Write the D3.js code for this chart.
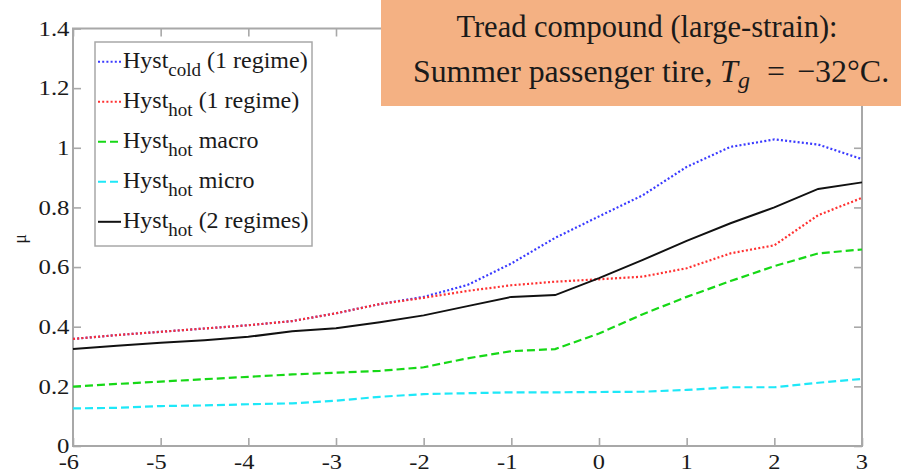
<!DOCTYPE html>
<html>
<head>
<meta charset="utf-8">
<script src="https://cdn.jsdelivr.net/npm/d3@7"></script>
<style>
  html, body { margin: 0; padding: 0; background: #fff; }
  svg { display: block; }
</style>
</head>
<body>
<svg id="chart" width="901" height="473"></svg>
<script>
// Sliding speed (log scale) and friction coefficient per hysteresis model
const logSpeed = [-6, -5.5, -5, -4.5, -4, -3.5, -3, -2.5, -2, -1.5, -1, -0.5, 0, 0.5, 1, 1.5, 2, 2.5, 3];
const hystCold1 = [0.359, 0.372, 0.383, 0.394, 0.405, 0.419, 0.445, 0.476, 0.500, 0.540, 0.612, 0.698, 0.770, 0.841, 0.936, 1.003, 1.028, 1.011, 0.962];
const hystHot1  = [0.359, 0.372, 0.383, 0.394, 0.405, 0.419, 0.445, 0.476, 0.497, 0.520, 0.539, 0.551, 0.559, 0.568, 0.596, 0.646, 0.673, 0.774, 0.832];
const hystMacro = [0.199, 0.208, 0.216, 0.224, 0.232, 0.240, 0.246, 0.252, 0.264, 0.294, 0.318, 0.325, 0.377, 0.442, 0.500, 0.553, 0.603, 0.646, 0.659];
const hystMicro = [0.126, 0.128, 0.134, 0.136, 0.140, 0.143, 0.152, 0.165, 0.174, 0.177, 0.180, 0.180, 0.181, 0.182, 0.188, 0.197, 0.197, 0.212, 0.225];
const hystHot2  = [0.325, 0.336, 0.346, 0.355, 0.366, 0.385, 0.395, 0.415, 0.438, 0.469, 0.500, 0.506, 0.563, 0.624, 0.688, 0.747, 0.800, 0.862, 0.884];

const xTicks = [-6, -5, -4, -3, -2, -1, 0, 1, 2, 3];
const yTicks = [0, 0.2, 0.4, 0.6, 0.8, 1, 1.2, 1.4];

// Legend entries: main label, subscript, trailing text
const seriesNames = [
  ["Hyst", "cold", " (1 regime)"],
  ["Hyst", "hot", " (1 regime)"],
  ["Hyst", "hot", " macro"],
  ["Hyst", "hot", " micro"],
  ["Hyst", "hot", " (2 regimes)"]
];
const seriesValues = [hystCold1, hystHot1, hystMacro, hystMicro, hystHot2];
const seriesColors = ["#3a3aff", "#ff3030", "#16d816", "#1ee8f8", "#111111"];
const seriesDash = ["2,2.2", "2,2.2", "8,4", "8,4", null];

const titleLine1 = "Tread compound (large-strain):";
const titleLine2 = ["Summer passenger tire,", "T", "g", "=", "−32°C."];

const SERIF = '"Liberation Serif", "Times New Roman", Times, "DejaVu Serif", serif';
const INK = "#1a1a1a";

const svg = d3.select("#chart");
const x = d3.scaleLinear().domain([-6, 3]).range([73, 862]);
const y = d3.scaleLinear().domain([0, 1.4]).range([446, 28.5]);
const axisColor = "#a8a8a8";

// Frame ticks (inward) on all four sides
const gB = svg.append("g").attr("transform", `translate(0,${y(0)})`)
  .call(d3.axisBottom(x).tickValues(xTicks).tickSizeInner(-8).tickSizeOuter(0)
    .tickFormat(d => String(d).replace("−", "-")));
const gT = svg.append("g").attr("transform", `translate(0,${y(1.4)})`)
  .call(d3.axisTop(x).tickValues(xTicks).tickSizeInner(-8).tickSizeOuter(0).tickFormat(""));
const gL = svg.append("g").attr("transform", `translate(${x(-6)},0)`)
  .call(d3.axisLeft(y).tickValues(yTicks).tickSizeInner(-8).tickSizeOuter(0)
    .tickFormat(d => d === 0 || d === 1 ? String(d) : d3.format(".1f")(d)));
const gR = svg.append("g").attr("transform", `translate(${x(3)},0)`)
  .call(d3.axisRight(y).tickValues(yTicks).tickSizeInner(-8).tickSizeOuter(0).tickFormat(""));

[gB, gT, gL, gR].forEach(g => {
  g.attr("font-family", null).attr("font-size", null);
  g.select(".domain").remove();
  g.selectAll(".tick line").attr("stroke", axisColor).attr("stroke-width", 1.6);
});

gB.selectAll(".tick text")
  .attr("text-anchor", "end").attr("x", 0).attr("y", 0).attr("dy", null)
  .attr("transform", "translate(5.5,23) scale(1.22,1)")
  .style("font-family", SERIF).style("font-size", "20px").attr("fill", INK);
gL.selectAll(".tick text")
  .attr("text-anchor", "end").attr("x", 0).attr("y", 0).attr("dy", "0.34em")
  .attr("transform", "translate(-3.5,0) scale(1.24,1)")
  .style("font-family", SERIF).style("font-size", "20px").attr("fill", INK);

// Axis box
svg.append("rect")
  .attr("x", x(-6)).attr("y", y(1.4))
  .attr("width", x(3) - x(-6)).attr("height", y(0) - y(1.4))
  .attr("fill", "none").attr("stroke", axisColor).attr("stroke-width", 2);

// y label
svg.append("text")
  .attr("transform", `translate(26,239) rotate(-90)`)
  .attr("text-anchor", "middle")
  .style("font-family", SERIF).style("font-size", "18px").attr("fill", INK)
  .text("μ");

// Curves
const line = d3.line().x((d, i) => x(logSpeed[i])).y(d => y(d));
seriesValues.forEach((vals, k) => {
  svg.append("path")
    .datum(vals)
    .attr("d", line)
    .attr("fill", "none")
    .attr("stroke", seriesColors[k])
    .attr("stroke-width", k === 4 ? 2 : 2.2)
    .attr("stroke-dasharray", seriesDash[k]);
});

// Legend
const lg = svg.append("g");
lg.append("rect")
  .attr("x", 95).attr("y", 42).attr("width", 217).attr("height", 204)
  .attr("fill", "#fff").attr("stroke", axisColor).attr("stroke-width", 1.5);
seriesNames.forEach((nm, k) => {
  const base = 68.3 + k * 40;
  lg.append("line")
    .attr("x1", 98).attr("x2", 121)
    .attr("y1", base - 6.5).attr("y2", base - 6.5)
    .attr("stroke", seriesColors[k]).attr("stroke-width", 2)
    .attr("stroke-dasharray", seriesDash[k]);
  const t = lg.append("text").attr("x", 123).attr("y", base)
    .style("font-family", SERIF).style("font-size", "24px").attr("fill", INK);
  t.append("tspan").text(nm[0]);
  t.append("tspan").attr("dy", 8).style("font-size", "19px").text(nm[1]);
  t.append("tspan").attr("dy", -8).text(nm[2]);
});

// Title box
svg.append("rect")
  .attr("x", 381).attr("y", 0).attr("width", 520).attr("height", 106)
  .attr("fill", "#f4b183");
svg.append("text")
  .attr("x", 647).attr("y", 37).attr("text-anchor", "middle")
  .style("font-family", SERIF).style("font-size", "30.5px").attr("fill", INK)
  .text(titleLine1);
const t2 = svg.append("text").attr("y", 82)
  .style("font-family", SERIF).style("font-size", "31.8px").attr("fill", INK);
t2.append("tspan").attr("x", 413).text(titleLine2[0]);
t2.append("tspan").attr("x", 720).style("font-style", "italic").style("font-size", "32px").text(titleLine2[1]);
t2.append("tspan").attr("x", 738).attr("dy", 6).style("font-style", "italic").style("font-size", "24px").text(titleLine2[2]);
t2.append("tspan").attr("x", 767).attr("dy", -6).text(titleLine2[3]);
t2.append("tspan").attr("x", 797).style("font-size", "32px").text(titleLine2[4]);
</script>
</body>
</html>
